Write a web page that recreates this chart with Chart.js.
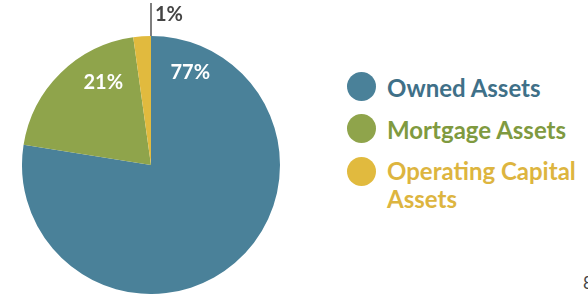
<!DOCTYPE html>
<html>
<head>
<meta charset="utf-8">
<script src="https://cdn.jsdelivr.net/npm/chart.js@4"></script>
<style>
  html, body { margin: 0; padding: 0; background: #fff; }
  body { width: 588px; height: 294px; position: relative; overflow: hidden; font-family: Lato, sans-serif; }
  #wrap { position: absolute; left: 0; top: 0; width: 300px; height: 294px; }
  #legend { position: absolute; left: 347px; top: 74px; margin: 0; padding: 0; list-style: none; }
  #legend li { position: relative; padding-left: 40px; font-weight: bold; font-size: 24px; line-height: 28px; margin-bottom: 14px; white-space: nowrap; }
  #legend li:nth-child(2) { margin-bottom: 13px; }
  #legend li span.dot { position: absolute; left: 0; top: -2px; width: 29px; height: 29px; border-radius: 50%; }
  #legend li:nth-child(3) span.dot { top: 0; }
  #pagenum { position: absolute; left: 583px; top: 272px; font-size: 17px; color: #444; }
</style>
</head>
<body>
<div id="wrap"><canvas id="pie"></canvas></div>
<ul id="legend"></ul>
<div id="pagenum">8</div>
<script>
// dados
var categorias = ['Owned Assets', 'Mortgage Assets', ['Operating Capital', 'Assets']];
var valores = [77.5, 20.3, 2.2];
var rotulos = ['77%', '21%', '1%'];
var cores = ['#4a8199', '#8fa44b', '#e1ba3e'];
var coresTexto = ['#3f7088', '#7f9a40', '#ddb53f'];

// posicao dos rotulos: angulo (graus a partir do topo) e fracao do raio
var posRotulos = [
  { ang: 23, r: 0.78, dentro: true },
  { ang: 330, r: 0.74, dentro: true },
  { ang: 0, r: 1, dentro: false }
];

var rotulosPlugin = {
  id: 'rotulos',
  afterDatasetsDraw: function (chart) {
    var ctx = chart.ctx;
    var arcs = chart.getDatasetMeta(0).data;
    var cx = arcs[0].x, cy = arcs[0].y, raio = arcs[0].outerRadius;
    ctx.save();
    ctx.font = 'bold 20px Lato';
    ctx.textBaseline = 'middle';
    for (var i = 0; i < rotulos.length; i++) {
      var p = posRotulos[i];
      var a = p.ang * Math.PI / 180;
      if (p.dentro) {
        ctx.fillStyle = '#ffffff';
        ctx.textAlign = 'center';
        ctx.fillText(rotulos[i], cx + Math.sin(a) * raio * p.r, cy - Math.cos(a) * raio * p.r);
      } else {
        // linha guia para a fatia pequena
        ctx.strokeStyle = '#555555';
        ctx.lineWidth = 1.5;
        ctx.beginPath();
        ctx.moveTo(cx, cy - raio);
        ctx.lineTo(cx, 3);
        ctx.stroke();
        ctx.fillStyle = '#444444';
        ctx.textAlign = 'left';
        ctx.fillText(rotulos[i], cx + 4, 15);
      }
    }
    ctx.restore();
  }
};

var ctx = document.getElementById('pie').getContext('2d');
var chart = new Chart(ctx, {
  type: 'pie',
  data: {
    labels: categorias,
    datasets: [{
      data: valores,
      backgroundColor: cores,
      borderWidth: 0
    }]
  },
  options: {
    responsive: true,
    maintainAspectRatio: false,
    animation: false,
    layout: { padding: { left: 22, right: 20, top: 36, bottom: 0 } },
    plugins: {
      legend: { display: false },
      tooltip: { enabled: false }
    }
  },
  plugins: [rotulosPlugin]
});

// legenda em html
var legenda = document.getElementById('legend');
for (var i = 0; i < categorias.length; i++) {
  var li = document.createElement('li');
  li.style.color = coresTexto[i];
  var dot = document.createElement('span');
  dot.className = 'dot';
  dot.style.background = cores[i];
  li.appendChild(dot);
  var linhas = Array.isArray(categorias[i]) ? categorias[i] : [categorias[i]];
  for (var j = 0; j < linhas.length; j++) {
    if (j > 0) li.appendChild(document.createElement('br'));
    li.appendChild(document.createTextNode(linhas[j]));
  }
  legenda.appendChild(li);
}
</script>
</body>
</html>
